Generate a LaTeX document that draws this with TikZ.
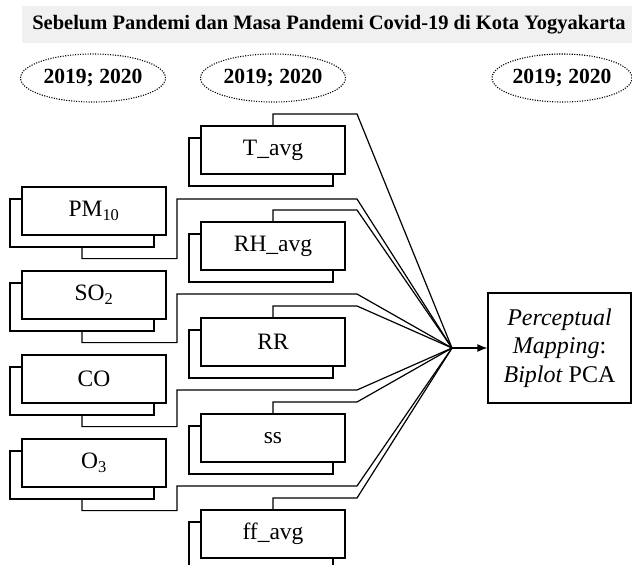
\documentclass[tikz,border=0pt]{standalone}
\usepackage{fontspec}
\setmainfont{Liberation Serif}
\usetikzlibrary{positioning}
\usetikzlibrary{shapes.geometric,shadows,arrows.meta}

\begin{document}
\begin{tikzpicture}[x=1pt,y=-1pt,line width=1.2pt,
  varbox/.style={draw,fill=white,minimum width=144pt,minimum height=48pt,inner sep=0pt,
    font=\fontsize{23.5}{27}\selectfont,
    general shadow={draw=black,fill=white,line width=1.2pt,shadow xshift=-12pt,shadow yshift=-12pt}},
  yearoval/.style={ellipse,draw,line width=1.1pt,dash pattern=on 1.1pt off 1.4pt,
    minimum width=145pt,minimum height=48pt,inner sep=0pt,font=\bfseries\fontsize{21.6}{25}\selectfont},
  pcabox/.style={draw,minimum width=143pt,minimum height=110pt,inner sep=0pt,align=center,
    font=\fontsize{24}{28.5}\selectfont}]
 \useasboundingbox (0,0) rectangle (632,565);
 \fill[gray!12] (22,6) rectangle (632,43);
 \node[font=\bfseries\fontsize{20.5}{24}\selectfont] (title) at (329,25) {Sebelum Pandemi dan Masa Pandemi Covid-19 di Kota Yogyakarta};
 \node[yearoval] (yr1) at (93,78) {2019; 2020};
 \node[yearoval] (yr2) at (273,78) {2019; 2020};
 \node[yearoval,minimum width=136pt] (yr3) at (562,78) {2019; 2020};
 \coordinate (hub) at (452,348);
 \node[varbox] (pm) at (94,211) {PM\textsubscript{10}};
 \node[varbox] (so) at (94,295) {SO\textsubscript{2}};
 \node[varbox] (co) at (94,379) {CO};
 \node[varbox] (oz) at (94,463) {O\textsubscript{3}};
 \node[varbox] (tavg) at (273,150) {T\_avg};
 \node[varbox] (rh) at (273,246) {RH\_avg};
 \node[varbox] (rr) at (273,342) {RR};
 \node[varbox] (ss) at (273,438) {ss};
 \node[varbox] (ff) at (273,534) {ff\_avg};
 \node[pcabox] (pca) at (559.5,348) {\textit{Perceptual}\\\textit{Mapping}:\\\textit{Biplot} PCA};
 \draw ([shift={(-12,12)}]pm.south) -- ++(0,11) -| (177,199) -- (357,199) -- (hub);
 \draw ([shift={(-12,12)}]so.south) -- ++(0,11) -| (177,294) -- (357,294) -- (hub);
 \draw ([shift={(-12,12)}]co.south) -- ++(0,11) -| (177,390) -- (357,390) -- (hub);
 \draw ([shift={(-12,12)}]oz.south) -- ++(0,11) -| (177,486) -- (357,486) -- (hub);
 \draw (tavg.north) |- (357,114) -- (hub);
 \draw (rh.north) |- (357,210) -- (hub);
 \draw (rr.north) |- (357,306) -- (hub);
 \draw (ss.north) |- (357,402) -- (hub);
 \draw (ff.north) |- (357,498) -- (hub);
 \draw[-{Latex[length=10pt,width=8pt]}] (hub) -- (pca);
\end{tikzpicture}
\end{document}
